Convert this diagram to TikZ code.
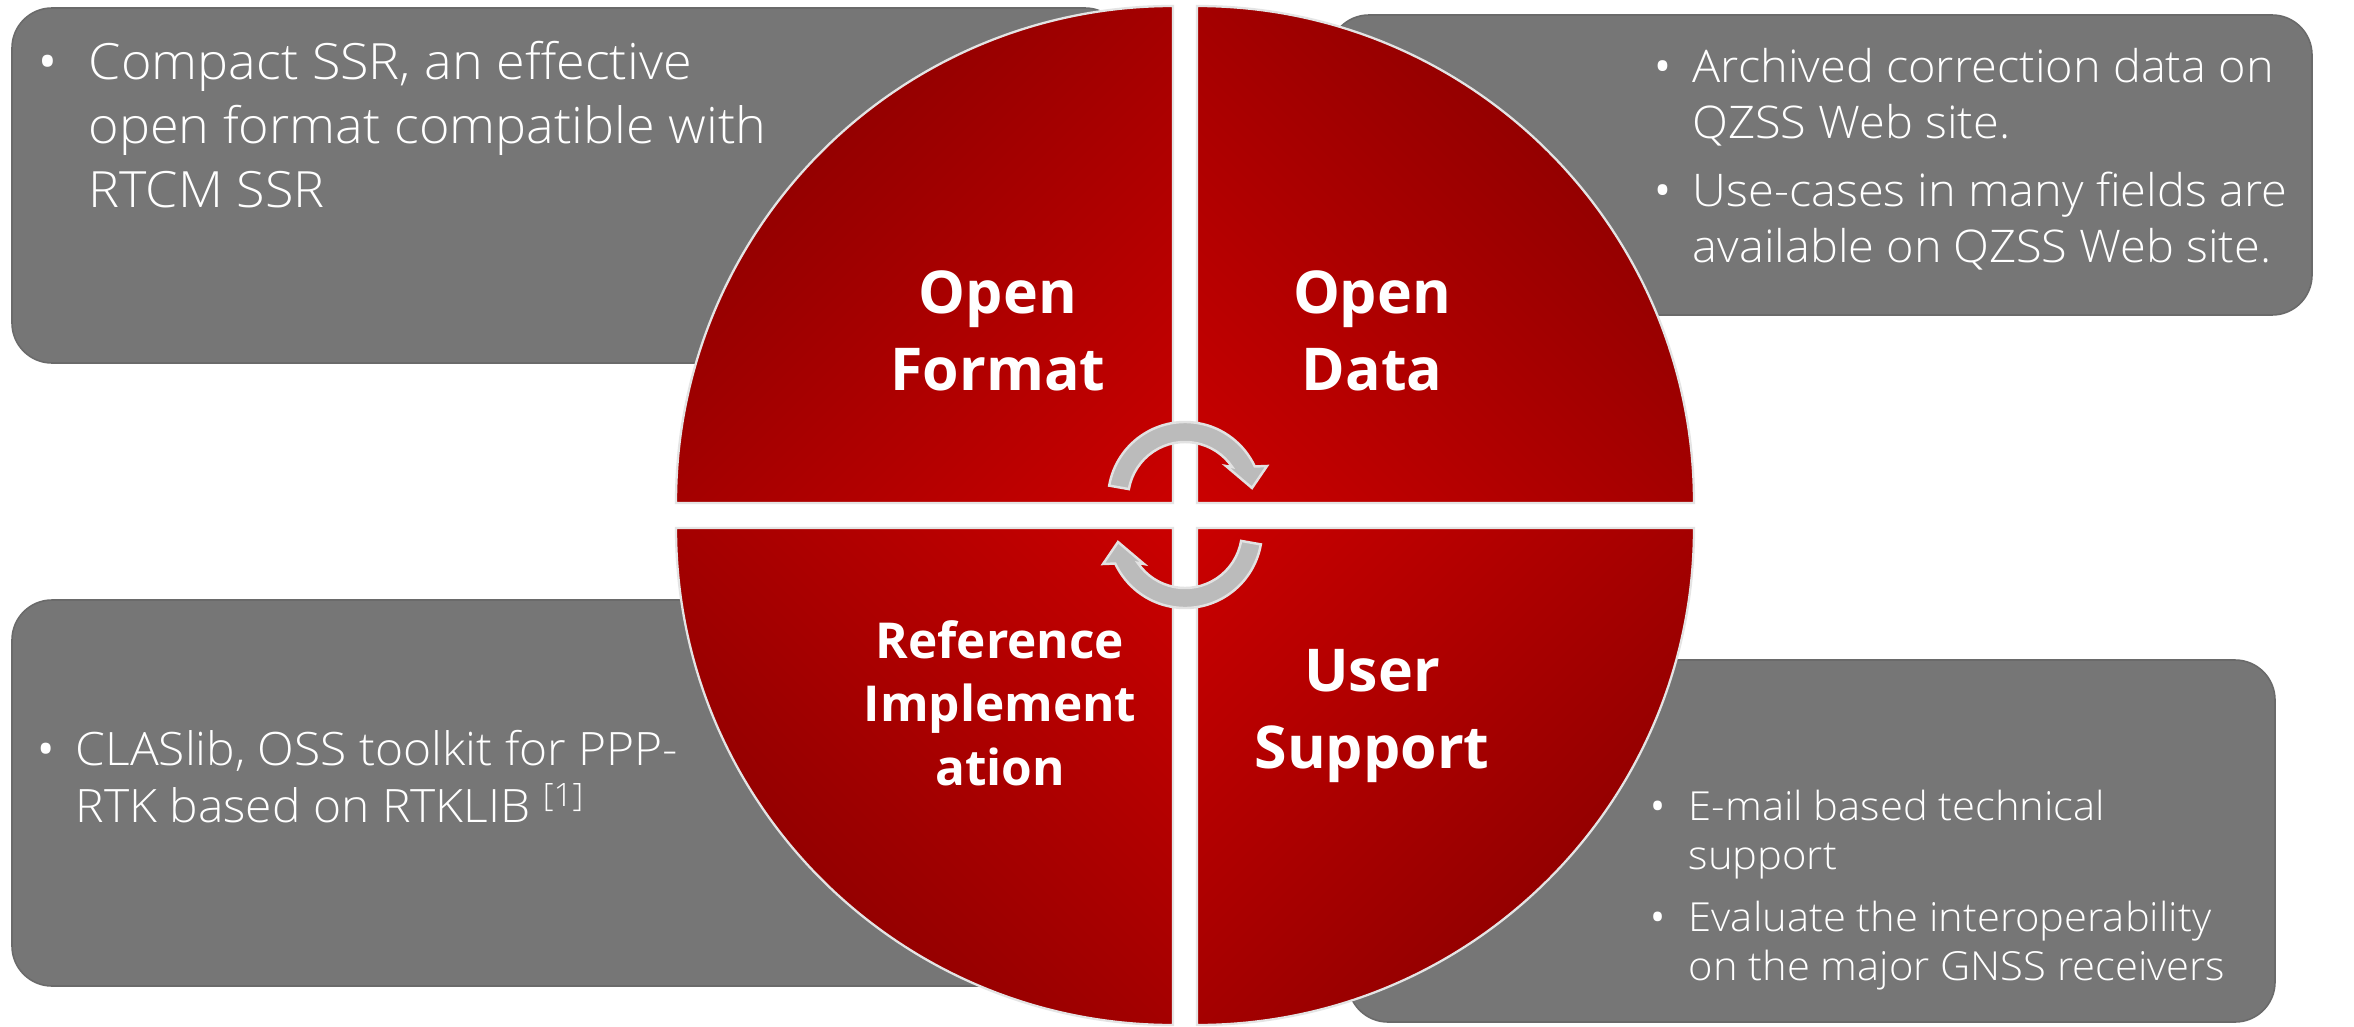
\documentclass[tikz,border=0pt]{standalone}
\usepackage{fontspec}
\setmainfont{Open Sans}
\IfFontExistsTF{Open Sans Light}
  {\newfontfamily\bodyfont{Open Sans Light}[FakeStretch=1.042]}
  {\newfontfamily\bodyfont{Open Sans}}
\usetikzlibrary{calc}

\definecolor{boxgray}{HTML}{767676}
\definecolor{boxline}{HTML}{6A6A6A}
\definecolor{redhi}{RGB}{202,0,0}
\definecolor{redlo}{RGB}{148,0,0}
\definecolor{arrowfill}{HTML}{BBBBBB}
\definecolor{arrowline}{HTML}{E2E2E2}
\definecolor{quadline}{HTML}{E4E4E4}

\newcommand\bulletmark[1]{\makebox[#1][l]{\rmfamily\textbullet}}

\begin{document}
\begin{tikzpicture}[x=0.01cm,y=0.01cm,
  infobox/.style={fill=boxgray, draw=boxline, line width=0.45pt, rounded corners=0.4cm},
  quadedge/.style={draw=quadline, line width=0.65pt},
  cyclearrow/.style={fill=arrowfill, draw=arrowline, line width=0.7pt, line join=miter},
  bodytext/.style={text=white, inner sep=0pt, anchor=base west},
  headtext/.style={text=white, inner sep=0pt, anchor=base},
  cycarrow/.pic={
    \path[cyclearrow] (170:77) arc[start angle=170, end angle=25, radius=77]
      -- (82,33) -- (67,11) -- (41,33) -- (34:57)
      arc[start angle=34, end angle=170, radius=57] -- cycle;
  },
]
\useasboundingbox (0,0) rectangle (2354,1026);
\fill[white] (0,0) rectangle (2354,1026);

% grey note panels behind the circle
\path[infobox] (12,663) rectangle (1125,1018);
\path[infobox] (1329,711) rectangle (2312,1011);
\path[infobox] (12,40) rectangle (1125,426);
\path[infobox] (1348,4) rectangle (2275,366);

% four quarter discs, each shaded from its inner corner outwards
\begin{scope}
  \clip (1173,523) -- (676,523) arc[start angle=180, end angle=90, radius=497] -- cycle;
  \begin{scope}[transform canvas={shift={(1173,523)},rotate=135}]
    \shade[left color=redhi, right color=redlo] (0,-520) rectangle (500,520);
  \end{scope}
\end{scope}
\begin{scope}
  \clip (1197,523) -- (1197,1020) arc[start angle=90, end angle=0, radius=497] -- cycle;
  \begin{scope}[transform canvas={shift={(1197,523)},rotate=45}]
    \shade[left color=redhi, right color=redlo] (0,-520) rectangle (500,520);
  \end{scope}
\end{scope}
\begin{scope}
  \clip (1197,498) -- (1694,498) arc[start angle=0, end angle=-90, radius=497] -- cycle;
  \begin{scope}[transform canvas={shift={(1197,498)},rotate=-45}]
    \shade[left color=redhi, right color=redlo] (0,-520) rectangle (500,520);
  \end{scope}
\end{scope}
\begin{scope}
  \clip (1173,498) -- (1173,1) arc[start angle=270, end angle=180, radius=497] -- cycle;
  \begin{scope}[transform canvas={shift={(1173,498)},rotate=-135}]
    \shade[left color=redhi, right color=redlo] (0,-520) rectangle (500,520);
  \end{scope}
\end{scope}
\path[quadedge] (1173,523) -- (676,523) arc[start angle=180, end angle=90, radius=497] -- cycle;
\path[quadedge] (1197,523) -- (1197,1020) arc[start angle=90, end angle=0, radius=497] -- cycle;
\path[quadedge] (1197,498) -- (1694,498) arc[start angle=0, end angle=-90, radius=497] -- cycle;
\path[quadedge] (1173,498) -- (1173,1) arc[start angle=270, end angle=180, radius=497] -- cycle;

% cycle arrows in the middle
\pic at (1185,527) {cycarrow};
\pic[rotate=180] at (1185,495) {cycarrow};

% quadrant titles
\node[headtext, font=\fontsize{0.59cm}{0.77cm}\selectfont\bfseries] (fmt) at (998,713)
  {\begin{tabular}[t]{@{}c@{}}Open\\Format\end{tabular}};
\node[headtext, font=\fontsize{0.59cm}{0.77cm}\selectfont\bfseries] (data) at (1372,713)
  {\begin{tabular}[t]{@{}c@{}}Open\\Data\end{tabular}};
\node[headtext, font=\fontsize{0.495cm}{0.635cm}\selectfont\bfseries] (impl) at (1000,368)
  {\begin{tabular}[t]{@{}c@{}}Reference\\Implement\\ation\end{tabular}};
\node[headtext, font=\fontsize{0.59cm}{0.77cm}\selectfont\bfseries] (supp) at (1372,335)
  {\begin{tabular}[t]{@{}c@{}}User\\Support\end{tabular}};

% panel texts
\node[bodytext, font=\bodyfont\fontsize{0.50cm}{0.635cm}\selectfont] (fmtnote) at (38,946)
  {\begin{tabular}[t]{@{}l@{}l@{}}
    \bulletmark{0.50cm} & Compact SSR, an effective\\
     & open format compatible with\\
     & RTCM SSR
  \end{tabular}};
\node[bodytext, font=\bodyfont\fontsize{0.45cm}{0.565cm}\selectfont] (datanote) at (1654,944)
  {\begin{tabular}[t]{@{}l@{}l@{}}
    \bulletmark{0.38cm} & Archived correction data on\\
     & QZSS Web site.\\[0.11cm]
    \bulletmark{0.38cm} & Use-cases in many fields are\\
     & available on QZSS Web site.
  \end{tabular}};
\node[bodytext, font=\bodyfont\fontsize{0.46cm}{0.57cm}\selectfont] (implnote) at (37,261)
  {\begin{tabular}[t]{@{}l@{}l@{}}
    \bulletmark{0.38cm} & CLASlib, OSS toolkit for PPP-\\
     & RTK based on RTKLIB \textsuperscript{[1]}
  \end{tabular}};
\node[bodytext, font=\bodyfont\fontsize{0.40cm}{0.495cm}\selectfont] (suppnote) at (1650,206)
  {\begin{tabular}[t]{@{}l@{}l@{}}
    \bulletmark{0.38cm} & E-mail based technical\\
     & support\\[0.12cm]
    \bulletmark{0.38cm} & Evaluate the interoperability\\
     & on the major GNSS receivers
  \end{tabular}};
\end{tikzpicture}
\end{document}
